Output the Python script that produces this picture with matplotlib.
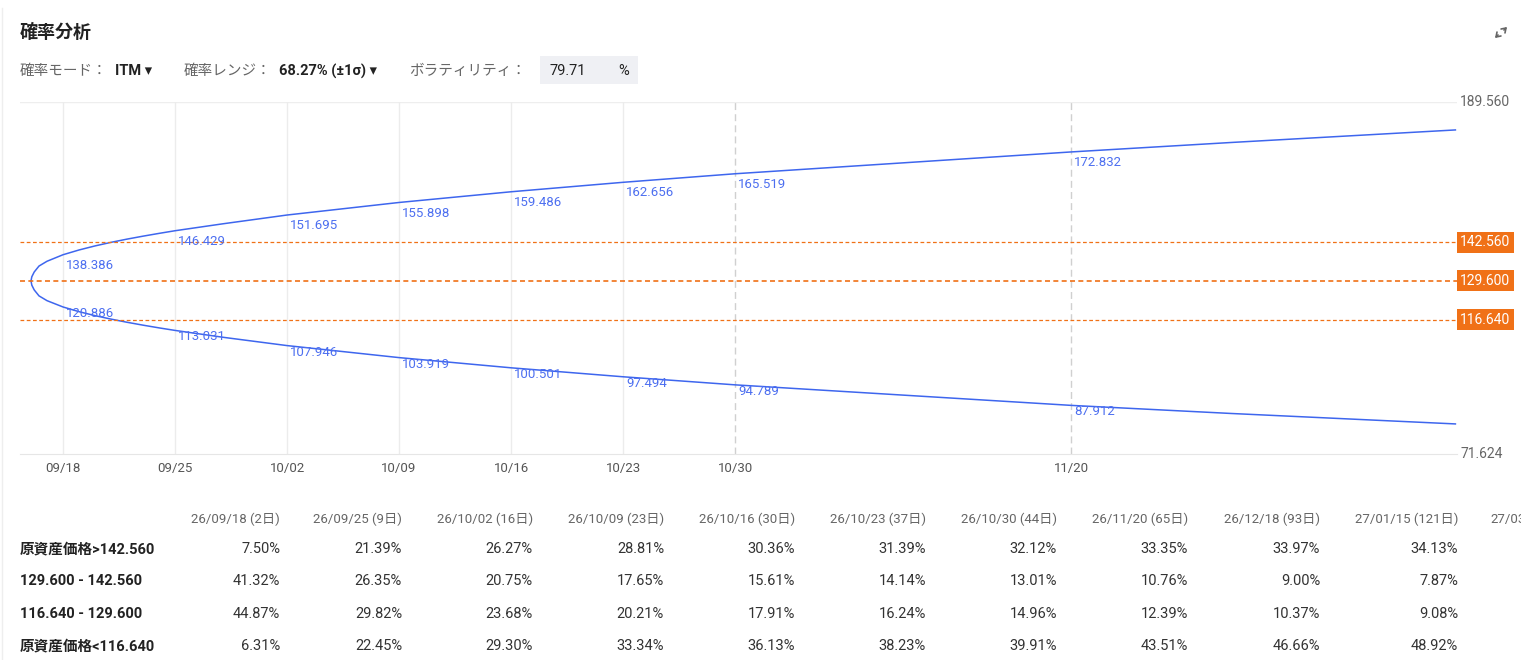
import matplotlib
matplotlib.use("Agg")
import matplotlib.pyplot as plt

plt.rcParams['font.family'] = ['Roboto', 'Noto Sans CJK JP', 'DejaVu Sans']

# ---- data ----
days = [0, 0.05, 0.2, 0.5, 1, 2, 3, 4, 5, 6, 7, 8, 9, 12, 16, 23, 30, 37, 44, 65, 75, 89]
upper = [129.6, 131.0, 132.6, 134.6, 136.2, 138.386, 139.98, 141.34, 142.54, 143.62, 144.61,
         145.54, 146.429, 148.76, 151.695, 155.898, 159.486, 162.656, 165.519, 172.832, 176.0, 180.2]
lower = [129.6, 128.2, 126.6, 124.6, 123.0, 120.886, 119.31, 117.98, 116.82, 115.76, 114.79,
         113.88, 113.031, 110.73, 107.946, 103.919, 100.501, 97.494, 94.789, 87.912, 85.2, 81.7]
label_days = [2, 9, 16, 23, 30, 37, 44, 65]
tick_days = [2, 9, 16, 23, 30, 37, 44, 65]
tick_labels = ["09/18", "09/25", "10/02", "10/09", "10/16", "10/23", "10/30", "11/20"]
dashed_ticks = ["10/30", "11/20"]
levels = [142.560, 129.600, 116.640]
ymin, ymax = 71.624, 189.560

col_headers = ["26/09/18 (2日)", "26/09/25 (9日)", "26/10/02 (16日)", "26/10/09 (23日)",
               "26/10/16 (30日)", "26/10/23 (37日)", "26/10/30 (44日)", "26/11/20 (65日)",
               "26/12/18 (93日)", "27/01/15 (121日)"]
row_labels = ["原資産価格>142.560", "129.600 - 142.560", "116.640 - 129.600", "原資産価格<116.640"]
table = [
    ["7.50%", "21.39%", "26.27%", "28.81%", "30.36%", "31.39%", "32.12%", "33.35%", "33.97%", "34.13%"],
    ["41.32%", "26.35%", "20.75%", "17.65%", "15.61%", "14.14%", "13.01%", "10.76%", "9.00%", "7.87%"],
    ["44.87%", "29.82%", "23.68%", "20.21%", "17.91%", "16.24%", "14.96%", "12.39%", "10.37%", "9.08%"],
    ["6.31%", "22.45%", "29.30%", "33.34%", "36.13%", "38.23%", "39.91%", "43.51%", "46.66%", "48.92%"],
]

W, H = 1521, 660
fig = plt.figure(figsize=(W/100, H/100), dpi=100)
def fx(px): return px / W
def fy(py): return 1 - py / H

BLUE = "#3e66ee"
ORANGE = "#f07117"

ax = fig.add_axes([fx(20), fy(454), fx(1437), 352/H])
ax.set_xlim(-0.6875, 89.1)
ax.set_ylim(ymin, ymax)
for s in ax.spines.values():
    s.set_visible(False)
ax.spines['bottom'].set_visible(True)
ax.spines['bottom'].set_color("#e6e6e6")
ax.set_yticks([])
ax.set_xticks(tick_days)
ax.set_xticklabels(tick_labels, fontsize=9.5, color="#555555")
ax.tick_params(axis='x', length=0, pad=6)
ax.axhline(ymax, color="#eeeeee", lw=1)
for d, t in zip(tick_days, tick_labels):
    if t in dashed_ticks:
        ax.axvline(d, color="#d0d0d0", lw=1, ls=(0, (5, 3)))
    else:
        ax.axvline(d, color="#ececec", lw=1)

ax.plot(days, upper, color=BLUE, lw=1.1)
ax.plot(days, lower, color=BLUE, lw=1.1)
for d, u, l in zip(days, upper, lower):
    if d in label_days:
        ax.annotate(f"{u:.3f}", (d, u), xytext=(2, -3), textcoords="offset points",
                    ha="left", va="top", fontsize=9.5, color="#4d6ff0")
        ax.annotate(f"{l:.3f}", (d, l), xytext=(2, 0), textcoords="offset points",
                    ha="left", va="top", fontsize=9.5, color="#4d6ff0")

for lv in levels:
    ax.axhline(lv, color=ORANGE, lw=0.9 if lv != 129.6 else 1.2, ls=(0, (3, 2)))
    ax.text(1.0 + 3/1437, lv, f"{lv:.3f}", transform=ax.get_yaxis_transform(),
            ha="left", va="center", fontsize=10, color="white",
            bbox=dict(boxstyle="square,pad=0.25", fc=ORANGE, ec="none"))
ax.text(1.0 + 3/1437, ymax, f"{ymax:.3f}", transform=ax.get_yaxis_transform(),
        ha="left", va="center", fontsize=10, color="#666666")
ax.text(1.0 + 3/1437, ymin, f"{ymin:.3f}", transform=ax.get_yaxis_transform(),
        ha="left", va="center", fontsize=10, color="#666666")

# header
fig.text(fx(20), fy(33), "確率分析", fontsize=13, fontweight="bold", va="center", color="#222222")
fig.text(fx(20), fy(71), "確率モード：", fontsize=10.5, va="center", color="#666666")
fig.text(fx(115), fy(71), "ITM ▾", fontsize=10.5, va="center", color="#222222", fontweight="bold")
fig.text(fx(184), fy(71), "確率レンジ：", fontsize=10.5, va="center", color="#666666")
fig.text(fx(279), fy(71), "68.27% (±1σ) ▾", fontsize=10.5, va="center", color="#222222", fontweight="bold")
fig.text(fx(409), fy(71), "ボラティリティ：", fontsize=10.5, va="center", color="#666666")
fig.patches.append(matplotlib.patches.Rectangle((fx(540), fy(84)), fx(98), 28/H,
                   transform=fig.transFigure, fc="#eff0f4", ec="none"))
fig.text(fx(550), fy(71), "79.71", fontsize=10.5, va="center", color="#222222")
fig.text(fx(618), fy(71), "%", fontsize=10.5, va="center", color="#222222")
# expand icon (two small arrows)
for (x0, y0, x1, y1) in [(1502, 32, 1509, 25), (1500, 33, 1493, 40)]:
    fig.add_artist(matplotlib.patches.FancyArrowPatch((fx(x0), fy(y0)), (fx(x1), fy(y1)),
                   transform=fig.transFigure, arrowstyle="->,head_length=3,head_width=2",
                   color="#666666", lw=1.2))
fig.add_artist(matplotlib.lines.Line2D([fx(2), fx(2)], [0, fy(8)], color="#eeeeee", lw=1))

# table
right_edges = [280, 402, 533, 664, 795, 926, 1057, 1188, 1320, 1458]
for xr, h in zip(right_edges, col_headers):
    fig.text(fx(xr), fy(519), h, ha="right", va="center", fontsize=9.5, color="#666666")
fig.text(fx(1490), fy(519), "27/03", ha="left", va="center", fontsize=9.5, color="#666666")
row_y = [549, 581, 614, 646]
for ry, lab, vals in zip(row_y, row_labels, table):
    fig.text(fx(20), fy(ry), lab, ha="left", va="center", fontsize=10.5, fontweight="bold", color="#222222")
    for xr, v in zip(right_edges, vals):
        fig.text(fx(xr), fy(ry), v, ha="right", va="center", fontsize=10.5, color="#333333")

fig.savefig("out.png", dpi=100)
